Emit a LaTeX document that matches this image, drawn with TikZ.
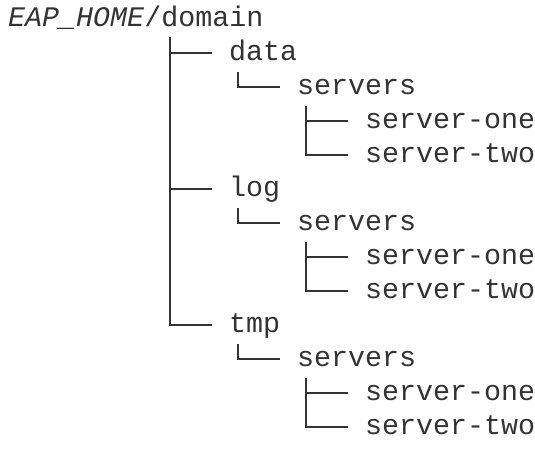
\documentclass[tikz,border=0pt]{standalone}
\usepackage{fontspec}
\setmonofont{Liberation Mono}
\definecolor{ink}{HTML}{333333}
\tikzset{
  dir/.style={anchor=base west,inner xsep=17pt,inner ysep=0pt,
    text height=20pt,text depth=6pt,text=ink,
    font=\fontsize{28.33pt}{34pt}\selectfont\ttfamily},
  branch/.style={draw=ink,line width=2pt},
}
\begin{document}
\begin{tikzpicture}[x=17pt,y=-34pt]
    \useasboundingbox (-8pt,26pt) rectangle (527pt,-430pt);

    \node [dir,inner xsep=0pt] (1) at (0,0) {\textit{EAP\_HOME}/domain};
    \node [dir] (2) at (12,1) {data};
    \node [dir] (3) at (16,2) {servers};
    \node [dir] (4) at (20,3) {server-one};
    \node [dir] (5) at (20,4) {server-two};
    \node [dir] (6) at (12,5) {log};
    \node [dir] (7) at (16,6) {servers};
    \node [dir] (8) at (20,7) {server-one};
    \node [dir] (9) at (20,8) {server-two};
    \node [dir] (10) at (12,9) {tmp};
    \node [dir] (11) at (16,10) {servers};
    \node [dir] (12) at (20,11) {server-one};
    \node [dir] (13) at (20,12) {server-two};

    \draw[branch] ([xshift=161.5pt,yshift=-5pt]1.south west) |- (2.west);
    \draw[branch] ([xshift=161.5pt,yshift=-5pt]1.south west) |- (6.west);
    \draw[branch] ([xshift=161.5pt,yshift=-5pt]1.south west) |- (10.west);
    \draw[branch] ([xshift=25.5pt,yshift=-6pt]2.south west) |- (3.west);
    \draw[branch] ([xshift=25.5pt,yshift=-6pt]3.south west) |- (4.west);
    \draw[branch] ([xshift=25.5pt,yshift=-6pt]3.south west) |- (5.west);
    \draw[branch] ([xshift=25.5pt,yshift=-6pt]6.south west) |- (7.west);
    \draw[branch] ([xshift=25.5pt,yshift=-6pt]7.south west) |- (8.west);
    \draw[branch] ([xshift=25.5pt,yshift=-6pt]7.south west) |- (9.west);
    \draw[branch] ([xshift=25.5pt,yshift=-6pt]10.south west) |- (11.west);
    \draw[branch] ([xshift=25.5pt,yshift=-6pt]11.south west) |- (12.west);
    \draw[branch] ([xshift=25.5pt,yshift=-6pt]11.south west) |- (13.west);

  \end{tikzpicture}
\end{document}
